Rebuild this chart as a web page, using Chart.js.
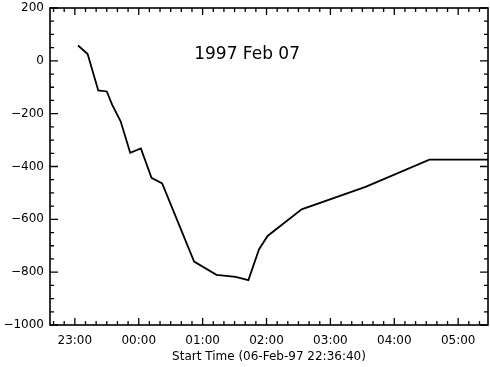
<!DOCTYPE html>
<html>
<head>
<meta charset="utf-8">
<title>1997 Feb 07</title>
<script src="https://cdn.jsdelivr.net/npm/chart.js@4/dist/chart.umd.min.js"></script>
<style>
    html, body { margin: 0; padding: 0; background: #fff; }
    #grafica { display: block; }
</style>
</head>
<body>
<canvas id="grafica" width="490" height="367"></canvas>
<script>
"use strict";

// times (06-Feb evening -> 07-Feb morning)
const times = ["23:03", "23:12", "23:22", "23:30", "23:35", "23:43", "23:52",
    "00:02", "00:12", "00:22", "00:52", "01:13", "01:31", "01:43", "01:53",
    "02:01", "02:33", "03:33", "04:33", "05:28"];
const values = [58, 26, -112, -116, -166, -229, -348,
    -332, -443, -464, -760, -810, -818, -830, -713,
    -663, -562, -477, -374, -374];

const xTickLabels = ["23:00", "00:00", "01:00", "02:00", "03:00", "04:00", "05:00"];
const yTickLabels = [-1000, -800, -600, -400, -200, 0, 200];

const startTime = "22:36:40";
const endTime = "05:28:00";
const plotTitle = "1997 Feb 07";
const xTitle = "Start Time (06-Feb-97 22:36:40)";

// hours relative to 00:00 on 07-Feb (evening hours go negative)
function toHours(s) {
    const p = s.split(":").map(Number);
    let h = p[0] + p[1] / 60 + (p[2] || 0) / 3600;
    if (h >= 12) h -= 24;
    return h;
}

function fmtHour(v) {
    const h = ((Math.round(v) % 24) + 24) % 24;
    return String(h).padStart(2, "0") + ":00";
}

const points = times.map((t, i) => ({ x: toHours(t), y: values[i] }));
const xMin = toHours(startTime);
const xMax = toHours(endTime);

const FONT = "DejaVu Sans";

// IDL style box with inward ticks on all four sides, plus the date label
const idlBox = {
    id: "idlBox",
    beforeDraw(chart) {
        const { ctx } = chart;
        ctx.save();
        ctx.fillStyle = "#fff";
        ctx.fillRect(0, 0, chart.width, chart.height);
        ctx.restore();
    },
    afterDraw(chart) {
        const { ctx, chartArea: a, scales } = chart;
        const x = scales.x, y = scales.y;
        ctx.save();
        ctx.strokeStyle = "#000";
        ctx.lineWidth = 1.6;
        ctx.strokeRect(a.left, a.top, a.right - a.left, a.bottom - a.top);

        ctx.lineWidth = 1.3;
        ctx.beginPath();
        // y ticks every 50, major every 200
        for (let v = y.min; v <= y.max; v += 50) {
            const py = y.getPixelForValue(v);
            const len = v % 200 === 0 ? 8 : 4;
            ctx.moveTo(a.left, py); ctx.lineTo(a.left + len, py);
            ctx.moveTo(a.right, py); ctx.lineTo(a.right - len, py);
        }
        // x ticks every 10 minutes, major every hour
        const step = 1 / 6;
        for (let k = Math.ceil(x.min / step); k * step <= x.max; k++) {
            const px = x.getPixelForValue(k * step);
            const len = k % 6 === 0 ? 7 : 4;
            ctx.moveTo(px, a.bottom); ctx.lineTo(px, a.bottom - len);
            ctx.moveTo(px, a.top); ctx.lineTo(px, a.top + len);
        }
        ctx.stroke();

        ctx.fillStyle = "#000";
        ctx.font = "17px '" + FONT + "'";
        ctx.textAlign = "center";
        ctx.textBaseline = "middle";
        ctx.fillText(plotTitle, a.left + (a.right - a.left) * 0.45, a.top + 47);
        ctx.restore();
    }
};

const $grafica = document.querySelector("#grafica");

new Chart($grafica, {
    type: "line",
    data: {
        datasets: [{
            data: points,
            borderColor: "#000",
            borderWidth: 1.8,
            pointRadius: 0,
            tension: 0,
            fill: false,
        }],
    },
    options: {
        responsive: false,
        animation: false,
        events: [],
        layout: { padding: { top: 8, right: 2, left: 0, bottom: 0 } },
        plugins: {
            legend: { display: false },
            tooltip: { enabled: false },
        },
        scales: {
            x: {
                type: "linear",
                min: xMin,
                max: xMax,
                afterBuildTicks: (scale) => {
                    scale.ticks = xTickLabels.map((t) => ({ value: toHours(t) }));
                },
                afterFit: (scale) => {
                    scale.height = 42;
                    scale.paddingLeft = 0;
                    scale.paddingRight = 0;
                },
                grid: { display: false, drawTicks: false },
                border: { display: false },
                ticks: {
                    color: "#000",
                    padding: 9,
                    maxRotation: 0,
                    font: { family: FONT, size: 12 },
                    callback: (v) => fmtHour(v),
                },
                title: {
                    display: true,
                    text: xTitle,
                    color: "#000",
                    font: { family: FONT, size: 12 },
                    padding: { top: 0, bottom: 3 },
                },
            },
            y: {
                type: "linear",
                min: yTickLabels[0],
                max: yTickLabels[yTickLabels.length - 1],
                afterBuildTicks: (scale) => {
                    scale.ticks = yTickLabels.map((v) => ({ value: v }));
                },
                afterFit: (scale) => {
                    scale.width = 50;
                    scale.paddingTop = 0;
                    scale.paddingBottom = 0;
                },
                grid: { display: false, drawTicks: false },
                border: { display: false },
                ticks: {
                    color: "#000",
                    padding: 6,
                    font: { family: FONT, size: 12 },
                    callback: (v) => String(v).replace("-", "\u2212"),
                },
            },
        },
    },
    plugins: [idlBox],
});
</script>
</body>
</html>
